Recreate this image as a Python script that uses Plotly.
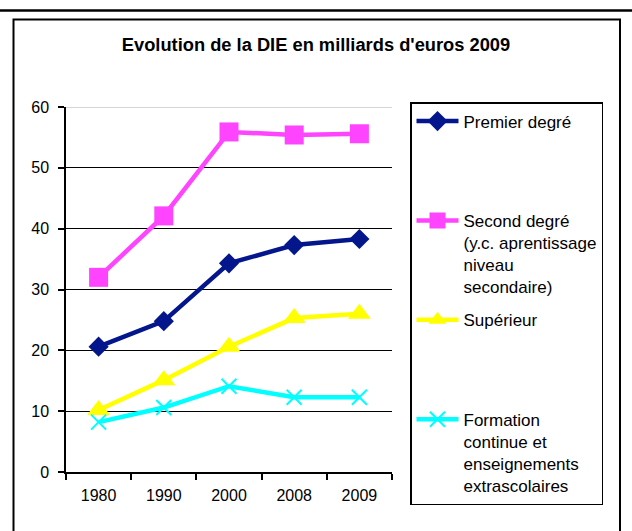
import plotly.graph_objects as go

years = ["1980", "1990", "2000", "2008", "2009"]
premier = [20.6, 24.8, 34.3, 37.3, 38.3]
second = [32.0, 42.1, 55.9, 55.4, 55.6]
superieur = [10.2, 15.1, 20.6, 25.3, 26.0]
formation = [8.2, 10.6, 14.1, 12.3, 12.3]

names = [
    "Premier degré",
    "Second degré<br>(y.c. aprentissage<br>niveau<br>secondaire)",
    "Supérieur",
    "Formation<br>continue et<br>enseignements<br>extrascolaires",
]
y_ticks = [0, 10, 20, 30, 40, 50, 60]

W, H = 632, 531
L, R, T, B = 66, 240, 107, 59
PW, PH = W - L - R, H - T - B

def px(x):
    return (x - L) / PW

def py(y):
    return (H - B - y) / PH

def pad(name, n=4):
    lines = name.count("<br>") + 1
    return name + "<br>\u00a0" * (n - lines)

FONT = "Liberation Sans, Arial, sans-serif"

fig = go.Figure()
series = [
    (premier, "#04168C", dict(symbol="diamond", size=15.5, color="#04168C")),
    (second, "#FF44FF", dict(symbol="square", size=19, color="#FF44FF")),
    (superieur, "#FFFF00", dict(symbol="triangle-up", size=20, color="#FFFF00")),
    (formation, "#00FFFF", dict(symbol="x-thin", size=15, color="#00FFFF",
                                line=dict(color="#00FFFF", width=2))),
]
for i, (vals, col, mk) in enumerate(series):
    fig.add_trace(go.Scatter(
        x=years, y=vals, name=pad(names[i]), mode="lines+markers",
        line=dict(color=col, width=4.5), marker=mk,
        legendgroup=f"g{i}",
    ))

fig.update_layout(
    width=W, height=H,
    margin=dict(l=L, r=R, t=T, b=B),
    paper_bgcolor="white", plot_bgcolor="white",
    font=dict(family=FONT, size=16, color="black"),
    title=dict(text="<b>Evolution de la DIE en milliards d'euros 2009</b>",
               x=316 / W, xanchor="center", y=1 - 45 / H, yanchor="middle",
               font=dict(family=FONT, size=18.3, color="black")),
    showlegend=True,
    legend=dict(x=px(410), y=py(102), xanchor="left", yanchor="top",
                bordercolor="black", borderwidth=1.5, bgcolor="white",
                font=dict(family=FONT, size=17, color="black"),
                valign="top", tracegroupgap=8, traceorder="grouped",
                itemwidth=42, entrywidth=200, entrywidthmode="pixels",
                maxheight=520),
)
fig.update_xaxes(
    type="category", tickson="boundaries", showgrid=False,
    showline=True, linecolor="black", linewidth=1.5,
    ticks="outside", ticklen=6, tickcolor="black", tickwidth=1.5,
    ticklabelstandoff=8, tickfont=dict(size=16),
    range=[-0.5, 4.5],
)
fig.update_yaxes(
    range=[0, 60], tickvals=y_ticks, showgrid=True, gridcolor="black", gridwidth=1.2,
    showline=True, linecolor="black", linewidth=1.5,
    ticks="outside", ticklen=6, tickcolor="black", tickwidth=1.5,
    tickfont=dict(size=16), zeroline=False, ticklabelstandoff=6,
)
shapes = [
    dict(type="line", xref="paper", yref="y", x0=0, x1=1, y0=60, y1=60,
         line=dict(color="#c8c8c8", width=1.5), layer="above"),
    dict(type="line", xref="paper", yref="paper", x0=px(0), x1=px(W), y0=py(10.5), y1=py(10.5),
         line=dict(color="black", width=2.5)),
    dict(type="rect", xref="paper", yref="paper", x0=px(13.5), x1=px(620), y0=py(19.5), y1=py(545),
         line=dict(color="black", width=2)),
]
fig.update_layout(shapes=shapes)
fig.write_html("out.html", config={"displayModeBar": False},
               post_script="document.body.style.margin='0';document.body.style.overflow='hidden';")
